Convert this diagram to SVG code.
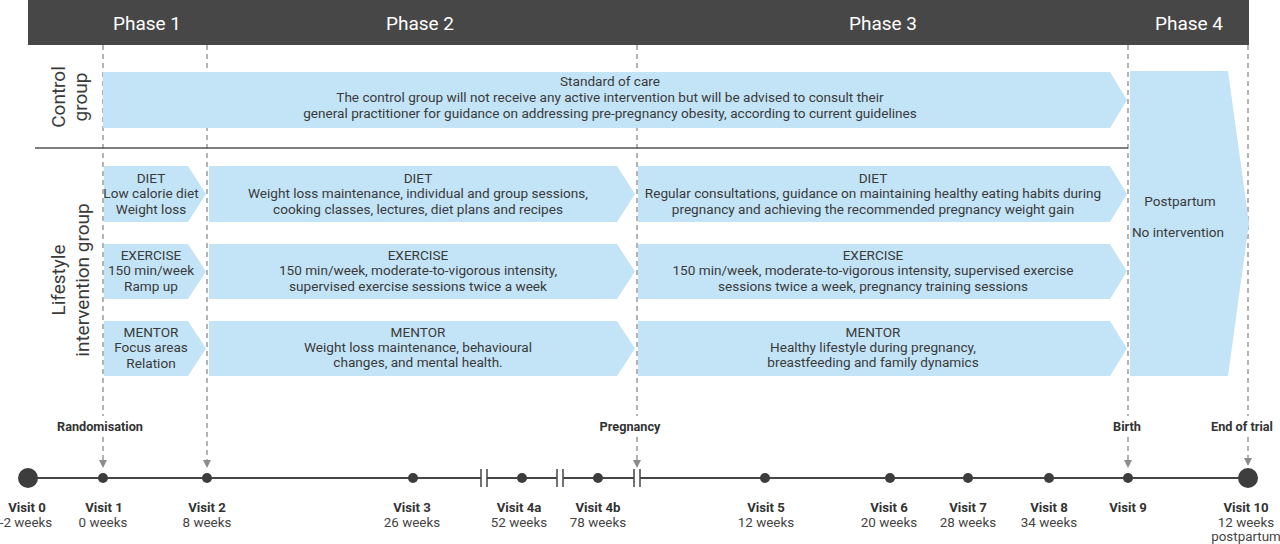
<svg xmlns="http://www.w3.org/2000/svg" width="1280" height="544" viewBox="0 0 1280 544">
<style>
  .hdr{font-family:Roboto,"Liberation Sans",sans-serif;font-size:19px;fill:#ffffff;text-anchor:middle}
  .grp{font-family:Roboto,"Liberation Sans",sans-serif;font-size:19px;fill:#3a3a3a;text-anchor:middle}
  .t{font-family:Roboto,"Liberation Sans",sans-serif;font-size:13.6px;fill:#3a3a3a;text-anchor:middle}
  .box{fill:#c3e4f7}
  .dash{stroke:#8c8c8c;stroke-width:1.3;stroke-dasharray:5 4;fill:none}
  .tl{stroke:#454545;stroke-width:2;fill:none}
  .dot{fill:#3d3d3d}
  .ev{font-family:Roboto,"Liberation Sans",sans-serif;font-size:12.7px;font-weight:bold;fill:#333;text-anchor:middle}
  .vb{font-family:Roboto,"Liberation Sans",sans-serif;font-size:13.2px;font-weight:bold;fill:#333;text-anchor:middle}
  .vw{font-family:Roboto,"Liberation Sans",sans-serif;font-size:13.4px;fill:#444;text-anchor:middle}
  .ah{fill:#8c8c8c}
</style>
<defs>
  <path id="arrowhead" class="ah" d="M-4,-8 L4,-8 L0,0 Z"/>
</defs>
<rect width="1280" height="544" fill="#ffffff"/>

<g id="header">
  <rect x="28" y="0" width="1221" height="45" fill="#474747"/>
  <text class="hdr" x="147" y="30">Phase 1</text>
  <text class="hdr" x="420" y="30">Phase 2</text>
  <text class="hdr" x="883" y="30">Phase 3</text>
  <text class="hdr" x="1189" y="30">Phase 4</text>
</g>

<g id="connectors">
  <line class="dash" x1="103" y1="45" x2="103" y2="416"/>
  <line class="dash" x1="103" y1="437" x2="103" y2="462"/>
  <line class="dash" x1="207" y1="45" x2="207" y2="462"/>
  <line class="dash" x1="637" y1="45" x2="637" y2="416"/>
  <line class="dash" x1="637" y1="437" x2="637" y2="462"/>
  <line class="dash" x1="1128" y1="45" x2="1128" y2="416"/>
  <line class="dash" x1="1128" y1="437" x2="1128" y2="462"/>
  <line class="dash" x1="1248" y1="45" x2="1248" y2="416"/>
  <line class="dash" x1="1248" y1="437" x2="1248" y2="462"/>
  <use href="#arrowhead" x="103" y="468"/>
  <use href="#arrowhead" x="207" y="468"/>
  <use href="#arrowhead" x="637" y="468"/>
  <use href="#arrowhead" x="1128" y="468"/>
  <use href="#arrowhead" x="1248" y="466"/>
  <line x1="35" y1="148" x2="1128" y2="148" stroke="#555" stroke-width="1.5"/>
</g>

<g id="control-label">
  <text class="grp" transform="translate(65,97) rotate(-90)">Control</text>
  <text class="grp" transform="translate(87,97) rotate(-90)">group</text>
</g>

<g id="control-band">
  <polygon class="box" points="103,72 1110,72 1127,100 1110,128 103,128"/>
  <text class="t" x="610" y="86">Standard of care</text>
  <text class="t" x="610" y="102">The control group will not receive any active intervention but will be advised to consult their</text>
  <text class="t" x="610" y="118">general practitioner for guidance on addressing pre-pregnancy obesity, according to current guidelines</text>
</g>

<g id="lifestyle-label">
  <text class="grp" transform="translate(65,280) rotate(-90)">Lifestyle</text>
  <text class="grp" transform="translate(89,280) rotate(-90)">intervention group</text>
</g>

<g id="p1-diet">
  <polygon class="box" points="104,166 188,166 206,194 188,222 104,222"/>
  <text class="t" x="151" y="183">DIET</text>
  <text class="t" x="151" y="198">Low calorie diet</text>
  <text class="t" x="151" y="214">Weight loss</text>
</g>
<g id="p1-exercise">
  <polygon class="box" points="104,244 188,244 206,271.5 188,299 104,299"/>
  <text class="t" x="151" y="260">EXERCISE</text>
  <text class="t" x="151" y="275">150 min/week</text>
  <text class="t" x="151" y="291">Ramp up</text>
</g>
<g id="p1-mentor">
  <polygon class="box" points="104,321 188,321 206,348.5 188,376 104,376"/>
  <text class="t" x="151" y="337">MENTOR</text>
  <text class="t" x="151" y="352">Focus areas</text>
  <text class="t" x="151" y="368">Relation</text>
</g>

<g id="p2-diet">
  <polygon class="box" points="209,166 617,166 635,194 617,222 209,222"/>
  <text class="t" x="418" y="183">DIET</text>
  <text class="t" x="418" y="198">Weight loss maintenance, individual and group sessions,</text>
  <text class="t" x="418" y="214">cooking classes, lectures, diet plans and recipes</text>
</g>
<g id="p2-exercise">
  <polygon class="box" points="209,244 617,244 635,271.5 617,299 209,299"/>
  <text class="t" x="418" y="260">EXERCISE</text>
  <text class="t" x="418" y="275">150 min/week, moderate-to-vigorous intensity,</text>
  <text class="t" x="418" y="291">supervised exercise sessions twice a week</text>
</g>
<g id="p2-mentor">
  <polygon class="box" points="209,321 617,321 635,348.5 617,376 209,376"/>
  <text class="t" x="418" y="337">MENTOR</text>
  <text class="t" x="418" y="352">Weight loss maintenance, behavioural</text>
  <text class="t" x="418" y="367">changes, and mental health.</text>
</g>

<g id="p3-diet">
  <polygon class="box" points="638,166 1110,166 1127,194 1110,222 638,222"/>
  <text class="t" x="873" y="183">DIET</text>
  <text class="t" x="873" y="198">Regular consultations, guidance on maintaining healthy eating habits during</text>
  <text class="t" x="873" y="214">pregnancy and achieving the recommended pregnancy weight gain</text>
</g>
<g id="p3-exercise">
  <polygon class="box" points="638,244 1110,244 1127,271.5 1110,299 638,299"/>
  <text class="t" x="873" y="260">EXERCISE</text>
  <text class="t" x="873" y="275">150 min/week, moderate-to-vigorous intensity, supervised exercise</text>
  <text class="t" x="873" y="291">sessions twice a week, pregnancy training sessions</text>
</g>
<g id="p3-mentor">
  <polygon class="box" points="638,321 1110,321 1127,348.5 1110,376 638,376"/>
  <text class="t" x="873" y="337">MENTOR</text>
  <text class="t" x="873" y="352">Healthy lifestyle during pregnancy,</text>
  <text class="t" x="873" y="367">breastfeeding and family dynamics</text>
</g>

<g id="p4-postpartum">
  <polygon class="box" points="1130,71 1228,71 1249,223 1228,376 1130,376"/>
  <text class="t" x="1180" y="206">Postpartum</text>
  <text class="t" x="1178" y="237">No intervention</text>
</g>

<g id="events">
  <text class="ev" x="100" y="431">Randomisation</text>
  <text class="ev" x="630" y="431">Pregnancy</text>
  <text class="ev" x="1127" y="431">Birth</text>
  <text class="ev" x="1242" y="431">End of trial</text>
</g>

<g id="timeline">
  <path class="tl" d="M28,478 H481 M487,478 H557 M563,478 H634 M640,478 H1248"/>
  <path d="M481,469 V487 M487,469 V487 M557,469 V487 M563,469 V487 M634,469 V487 M640,469 V487" stroke="#454545" stroke-width="1.5"/>
</g>

<g id="visit0"><circle class="dot" cx="28" cy="478" r="10"/><text class="vb" x="27" y="512">Visit 0</text><text class="vw" x="26" y="527">-2 weeks</text></g>
<g id="visit1"><circle class="dot" cx="103" cy="478" r="5"/><text class="vb" x="104" y="512">Visit 1</text><text class="vw" x="103" y="527">0 weeks</text></g>
<g id="visit2"><circle class="dot" cx="207" cy="478" r="5"/><text class="vb" x="207" y="512">Visit 2</text><text class="vw" x="207" y="527">8 weeks</text></g>
<g id="visit3"><circle class="dot" cx="413" cy="478" r="5"/><text class="vb" x="412" y="512">Visit 3</text><text class="vw" x="412" y="527">26 weeks</text></g>
<g id="visit4a"><circle class="dot" cx="522" cy="478" r="5"/><text class="vb" x="519" y="512">Visit 4a</text><text class="vw" x="519" y="527">52 weeks</text></g>
<g id="visit4b"><circle class="dot" cx="598" cy="478" r="5"/><text class="vb" x="598" y="512">Visit 4b</text><text class="vw" x="598" y="527">78 weeks</text></g>
<g id="visit5"><circle class="dot" cx="765" cy="478" r="5"/><text class="vb" x="766" y="512">Visit 5</text><text class="vw" x="766" y="527">12 weeks</text></g>
<g id="visit6"><circle class="dot" cx="890" cy="478" r="5"/><text class="vb" x="889" y="512">Visit 6</text><text class="vw" x="889" y="527">20 weeks</text></g>
<g id="visit7"><circle class="dot" cx="968" cy="478" r="5"/><text class="vb" x="968" y="512">Visit 7</text><text class="vw" x="968" y="527">28 weeks</text></g>
<g id="visit8"><circle class="dot" cx="1049" cy="478" r="5"/><text class="vb" x="1049" y="512">Visit 8</text><text class="vw" x="1049" y="527">34 weeks</text></g>
<g id="visit9"><circle class="dot" cx="1128" cy="478" r="5"/><text class="vb" x="1128" y="512">Visit 9</text></g>
<g id="visit10"><circle class="dot" cx="1248" cy="478" r="10"/><text class="vb" x="1246" y="512">Visit 10</text><text class="vw" x="1246" y="527">12 weeks</text><text class="vw" x="1246" y="541">postpartum</text></g>
</svg>
